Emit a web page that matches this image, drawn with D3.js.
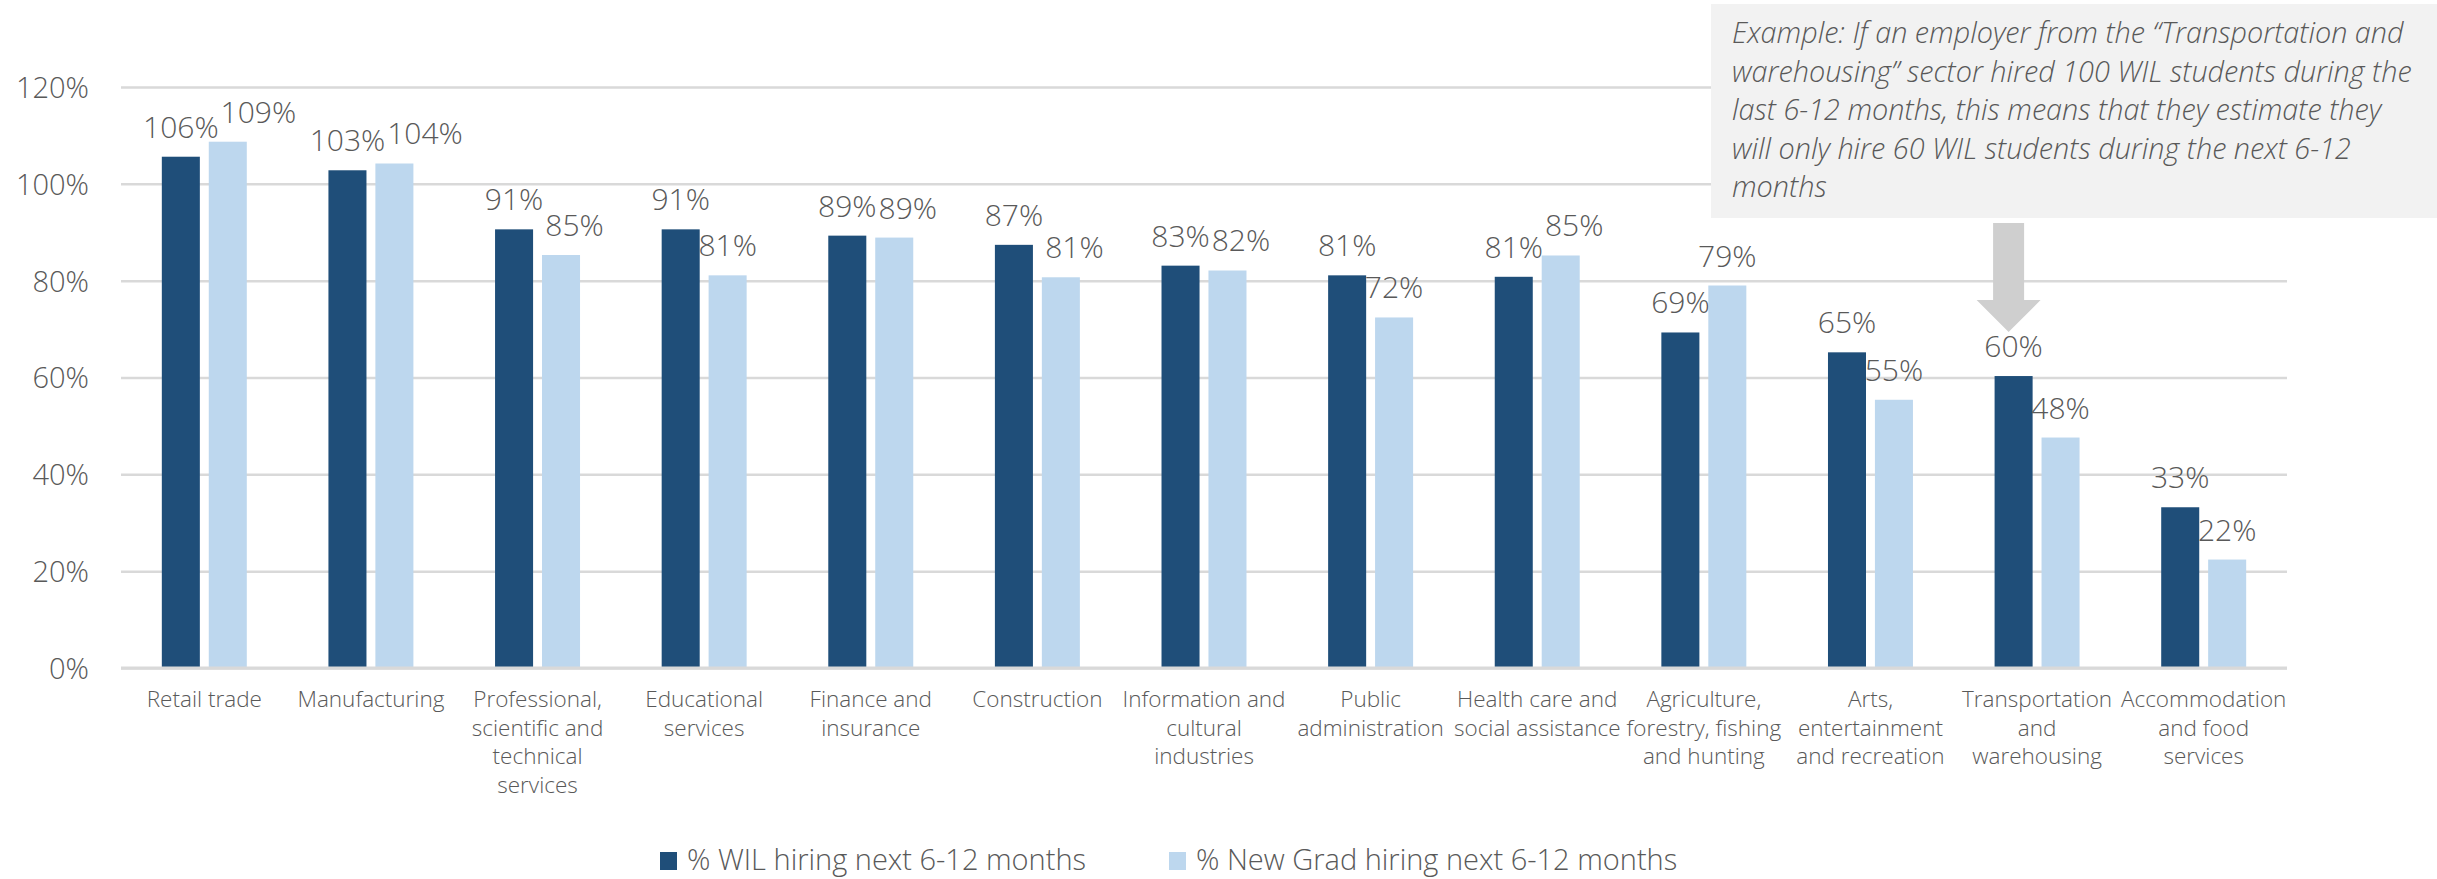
<!DOCTYPE html>
<html>
<head>
<meta charset="utf-8">
<script src="https://cdn.jsdelivr.net/npm/d3@7"></script>
<style>
  body { margin: 0; background: #fff; }
  svg text { font-family: "Open Sans", sans-serif; fill: #595959; }
</style>
</head>
<body>
<svg></svg>
<script>
// data
const categories = [
  "Retail trade",
  "Manufacturing",
  "Professional,\nscientific and\ntechnical\nservices",
  "Educational\nservices",
  "Finance and\ninsurance",
  "Construction",
  "Information and\ncultural\nindustries",
  "Public\nadministration",
  "Health care and\nsocial assistance",
  "Agriculture,\nforestry, fishing\nand hunting",
  "Arts,\nentertainment\nand recreation",
  "Transportation\nand\nwarehousing",
  "Accommodation\nand food\nservices"
];
const wilValues = [105.6, 102.8, 90.6, 90.6, 89.3, 87.4, 83.1, 81.1, 80.8, 69.3, 65.2, 60.3, 33.2];
const gradValues = [108.7, 104.2, 85.3, 81.1, 88.9, 80.7, 82.1, 72.4, 85.2, 79.0, 55.4, 47.6, 22.4];
const seriesNames = ["% WIL hiring next 6-12 months", "% New Grad hiring next 6-12 months"];
const seriesColors = ["#1f4e79", "#bdd7ee"];
const yTicks = [0, 20, 40, 60, 80, 100, 120];
const noteLines = [
  "Example: If an employer from the \u201cTransportation and",
  "warehousing\u201d sector hired 100 WIL students during the",
  "last 6-12 months, this means that they estimate they",
  "will only hire 60 WIL students during the next 6-12",
  "months"
];
const noteCategory = "Transportation\nand\nwarehousing";

const width = 2437;
const height = 879;
const margin = { top: 87, right: 150, bottom: 211, left: 121 };

const svg = d3.select('svg')
    .attr('width', width)
    .attr('height', height);

const x0 = d3.scaleBand()
    .domain(categories)
    .range([margin.left, width - margin.right])
    .paddingInner(0.49)
    .paddingOuter(0.245);

const x1 = d3.scaleBand()
    .domain([0, 1])
    .range([0, x0.bandwidth()])
    .paddingInner(0.19);

const y = d3.scaleLinear()
    .domain([0, 120])
    .range([height - margin.bottom, margin.top]);

// gridlines + y labels
const yAxis = d3.axisLeft(y)
    .tickValues(yTicks)
    .tickSize(-(width - margin.left - margin.right))
    .tickPadding(32)
    .tickFormat(d => d + '%');

const gy = svg.append('g')
    .attr('transform', 'translate(' + margin.left + ',0)')
    .call(yAxis);
gy.select('.domain').remove();
gy.selectAll('line').attr('stroke', '#d9d9d9').attr('stroke-width', 2.5);
gy.selectAll('text')
    .style('font-size', '29px')
    .style('font-weight', 300)
    .attr('dy', '0.36em');

// bars
const rows = categories.map((c, i) => ({ cat: c, vals: [wilValues[i], gradValues[i]] }));

const groups = svg.append('g')
    .selectAll('g')
    .data(rows)
    .enter()
    .append('g')
    .attr('transform', d => 'translate(' + x0(d.cat) + ',0)');

groups.selectAll('rect')
    .data(d => d.vals.map((v, k) => ({ v: v, k: k })))
    .enter()
    .append('rect')
    .attr('x', d => x1(d.k))
    .attr('y', d => y(d.v))
    .attr('width', x1.bandwidth())
    .attr('height', d => y(0) - y(d.v))
    .attr('fill', d => seriesColors[d.k]);

// value labels
groups.each(function (d) {
    const g = d3.select(this);
    const labels = d.vals.map((v, k) => g.append('text')
        .attr('x', x1(k) + x1.bandwidth() / 2)
        .attr('y', y(v) - 19)
        .attr('text-anchor', 'middle')
        .style('font-size', '30px')
        .style('font-weight', 300)
        .text(Math.round(v) + '%'));
    // push the light label right when it runs into the dark one
    const a = labels[0].node().getBBox();
    const b = labels[1].node().getBBox();
    const overlapX = b.x < a.x + a.width;
    const overlapY = b.y < a.y + a.height - 6 && a.y < b.y + b.height - 6;
    if (overlapX && overlapY) {
        const shift = a.x + a.width + 2 - b.x;
        labels[1].attr('x', x1(1) + x1.bandwidth() / 2 + shift);
    }
});

// x axis line + category labels
svg.append('line')
    .attr('x1', margin.left)
    .attr('x2', width - margin.right)
    .attr('y1', y(0))
    .attr('y2', y(0))
    .attr('stroke', '#d9d9d9')
    .attr('stroke-width', 3);

const xAxis = d3.axisBottom(x0).tickSize(0);
const gx = svg.append('g')
    .attr('transform', 'translate(0,' + y(0) + ')')
    .call(xAxis);
gx.select('.domain').remove();
gx.selectAll('.tick text')
    .style('font-size', '22.5px')
    .style('font-weight', 300)
    .attr('y', 0)
    .attr('dy', null)
    .each(function (d) {
        const t = d3.select(this);
        t.text(null);
        d.split('\n').forEach((line, i) => {
            t.append('tspan')
                .attr('x', 0)
                .attr('y', 39 + i * 28.7)
                .text(line);
        });
    });

// legend
const legendX = [660, 1169];
seriesNames.forEach((name, k) => {
    svg.append('rect')
        .attr('x', legendX[k])
        .attr('y', 852)
        .attr('width', 17)
        .attr('height', 18)
        .attr('fill', seriesColors[k]);
    svg.append('text')
        .attr('x', legendX[k] + 27)
        .attr('y', 870)
        .style('font-size', '29px')
        .style('font-weight', 300)
        .text(name);
});

// note box
const boxX = 1711, boxY = 4, boxH = 214;
svg.append('rect')
    .attr('x', boxX)
    .attr('y', boxY)
    .attr('width', width - boxX)
    .attr('height', boxH)
    .attr('fill', '#f2f2f2');

const note = svg.append('text')
    .attr('x', boxX + 21)
    .style('font-size', '28.8px')
    .style('font-weight', 300)
    .style('font-style', 'italic');
noteLines.forEach((line, i) => {
    note.append('tspan')
        .attr('x', boxX + 21)
        .attr('y', 43 + i * 38.5)
        .text(line);
});

// arrow pointing at the transportation WIL bar
const idx = categories.indexOf(noteCategory);
const cx = x0(noteCategory) + x1(0) + x1.bandwidth() / 2 - 5;
const tipY = y(wilValues[idx]) - 44;
const shaftTop = boxY + boxH + 5;
const headTop = tipY - 32;
svg.append('path')
    .attr('d', [
        'M', cx - 15.5, shaftTop,
        'L', cx + 15.5, shaftTop,
        'L', cx + 15.5, headTop,
        'L', cx + 32, headTop,
        'L', cx, tipY,
        'L', cx - 32, headTop,
        'L', cx - 15.5, headTop,
        'Z'
    ].join(' '))
    .attr('fill', '#cfcfcf');
</script>
</body>
</html>
